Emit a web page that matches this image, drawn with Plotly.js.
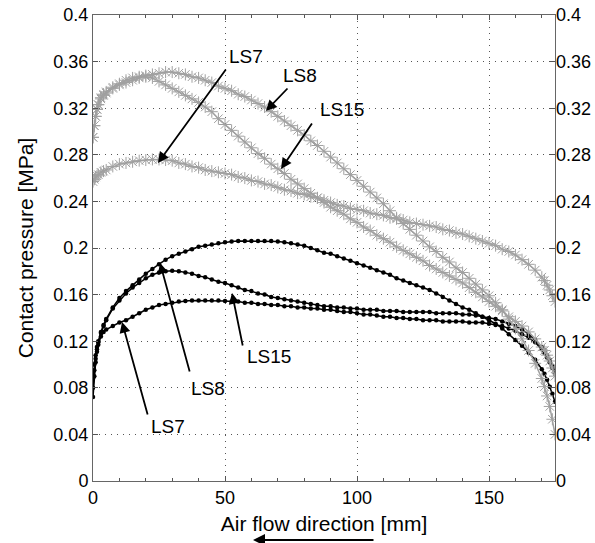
<!DOCTYPE html>
<html>
<head>
<meta charset="utf-8">
<script src="https://cdn.plot.ly/plotly-3.0.1.min.js"></script>
<style>html,body{margin:0;padding:0;background:#fff;}#chart{width:595px;height:543px;}</style>
</head>
<body>
<div id="chart"></div>
<script>
// x positions along the air flow direction [mm]
const xPos = [0,0.5,1,1.5,2,3,4,5,
  7.5,10,12.5,15,17.5,20,22.5,25,27.5,30,32.5,35,37.5,40,42.5,45,47.5,50,
  52.5,55,57.5,60,62.5,65,67.5,70,72.5,75,77.5,80,82.5,85,87.5,90,92.5,95,97.5,100,
  102.5,105,107.5,110,112.5,115,117.5,120,122.5,125,127.5,130,132.5,135,137.5,140,142.5,145,147.5,150,
  152.5,155,157.5,160,162.5,165,167.5,170,
  171,172,173,174,175];

// grey (asterisk) series
const greyLS8 = [0.295,0.305,0.313,0.319,0.323,0.328,0.331,0.333,
  0.337,0.340,0.342,0.344,0.346,0.348,0.349,0.350,0.351,0.351,0.350,0.349,0.347,0.346,0.344,0.342,0.339,0.337,
  0.335,0.332,0.330,0.327,0.324,0.321,0.317,0.313,0.309,0.305,0.301,0.297,0.292,0.288,0.283,0.278,0.273,0.268,0.263,0.258,
  0.253,0.248,0.243,0.238,0.232,0.226,0.221,0.216,0.211,0.206,0.201,0.197,0.192,0.188,0.183,0.179,0.174,0.169,0.164,0.159,
  0.153,0.147,0.139,0.131,0.122,0.112,0.101,0.088,
  0.081,0.073,0.064,0.053,0.040];
const greyLS15 = [0.295,0.305,0.313,0.319,0.323,0.329,0.332,0.334,
  0.338,0.341,0.344,0.346,0.347,0.347,0.346,0.343,0.340,0.337,0.334,0.331,0.328,0.325,0.321,0.317,0.311,0.306,
  0.301,0.296,0.291,0.286,0.281,0.277,0.272,0.268,0.264,0.259,0.255,0.251,0.247,0.243,0.239,0.235,0.232,0.229,0.225,0.222,
  0.218,0.215,0.211,0.208,0.205,0.201,0.198,0.195,0.192,0.189,0.185,0.182,0.179,0.176,0.173,0.170,0.166,0.162,0.158,0.154,
  0.150,0.146,0.141,0.137,0.133,0.128,0.122,0.115,
  0.112,0.108,0.103,0.097,0.090];
const greyLS7 = [0.257,0.259,0.261,0.262,0.263,0.265,0.266,0.267,
  0.270,0.272,0.273,0.274,0.275,0.2755,0.276,0.276,0.2755,0.275,0.273,0.272,0.270,0.269,0.267,0.266,0.265,0.264,
  0.263,0.261,0.260,0.258,0.257,0.255,0.254,0.252,0.250,0.249,0.247,0.246,0.244,0.243,0.241,0.239,0.237,0.236,0.234,0.233,
  0.232,0.230,0.229,0.228,0.226,0.225,0.224,0.222,0.221,0.220,0.219,0.218,0.216,0.215,0.213,0.212,0.210,0.208,0.206,0.204,
  0.202,0.199,0.197,0.194,0.190,0.186,0.181,0.175,
  0.172,0.168,0.164,0.159,0.154];

// black (dot) series
const blackLS8 = [0.088,0.100,0.108,0.115,0.120,0.128,0.134,0.139,
  0.149,0.157,0.163,0.168,0.173,0.178,0.182,0.186,0.190,0.193,0.195,0.197,0.199,0.201,0.202,0.203,0.204,0.205,
  0.2055,0.206,0.206,0.206,0.206,0.206,0.206,0.2055,0.205,0.204,0.203,0.202,0.200,0.198,0.196,0.195,0.193,0.191,0.189,0.187,
  0.185,0.183,0.181,0.179,0.177,0.174,0.172,0.170,0.168,0.166,0.164,0.161,0.158,0.155,0.152,0.149,0.147,0.144,0.141,0.138,
  0.135,0.131,0.126,0.121,0.116,0.110,0.104,0.096,
  0.092,0.087,0.081,0.075,0.068];
const blackLS15 = [0.080,0.095,0.105,0.113,0.119,0.127,0.133,0.138,
  0.148,0.155,0.161,0.166,0.170,0.174,0.177,0.179,0.180,0.1805,0.180,0.179,0.178,0.176,0.175,0.173,0.171,0.170,
  0.168,0.166,0.164,0.163,0.161,0.160,0.158,0.157,0.156,0.155,0.154,0.153,0.152,0.151,0.150,0.150,0.149,0.149,0.148,0.148,
  0.147,0.147,0.147,0.146,0.146,0.146,0.145,0.145,0.145,0.145,0.145,0.144,0.144,0.144,0.144,0.143,0.143,0.142,0.141,0.140,
  0.139,0.137,0.135,0.133,0.130,0.126,0.121,0.115,
  0.112,0.108,0.104,0.099,0.094];
const blackLS7 = [0.072,0.090,0.102,0.111,0.117,0.124,0.128,0.130,
  0.133,0.136,0.138,0.141,0.144,0.147,0.149,0.151,0.152,0.153,0.154,0.1545,0.155,0.155,0.155,0.155,0.155,0.1545,
  0.154,0.154,0.153,0.153,0.152,0.152,0.151,0.151,0.150,0.150,0.149,0.149,0.148,0.148,0.147,0.147,0.146,0.145,0.145,0.144,
  0.143,0.143,0.142,0.141,0.141,0.140,0.140,0.139,0.139,0.138,0.138,0.138,0.137,0.137,0.137,0.137,0.136,0.136,0.136,0.135,
  0.134,0.133,0.131,0.129,0.126,0.123,0.119,0.113,
  0.110,0.106,0.102,0.097,0.092];

// tick labels
const xTicks = [0,50,100,150];
const yTicks = [0,0.04,0.08,0.12,0.16,0.2,0.24,0.28,0.32,0.36,0.4];
const yTickText = ['0','0.04','0.08','0.12','0.16','0.2','0.24','0.28','0.32','0.36','0.4'];

// curve labels
const labelText = ['LS7','LS8','LS15','LS8','LS15','LS7'];

const GREY = '#a0a0a0';
function greyTrace(y){
  return {x:xPos, y:y, yaxis:'y2', type:'scatter', mode:'lines+markers',
    line:{color:GREY, width:1.5},
    marker:{symbol:'asterisk-open', size:10, color:GREY, line:{color:GREY, width:1}},
    hoverinfo:'skip'};
}
function blackTrace(y){
  return {x:xPos, y:y, type:'scatter', mode:'lines+markers',
    line:{color:'#000', width:1.5},
    marker:{symbol:'circle', size:4.5, color:'#000'},
    hoverinfo:'skip'};
}
const data = [blackTrace(blackLS8), blackTrace(blackLS15), blackTrace(blackLS7),
  greyTrace(greyLS8), greyTrace(greyLS15), greyTrace(greyLS7)];

const lblFont = {family:'Liberation Sans, Arial, sans-serif', size:19, color:'#000'};
function txt(x,y,t){return {x:x,y:y,xref:'x',yref:'y',text:t,showarrow:false,font:lblFont};}
function arr(x,y,ax,ay){return {x:x,y:y,xref:'x',yref:'y',text:'',showarrow:true,ax:ax,ay:ay,
  arrowhead:2,arrowsize:1.2,arrowwidth:1.8,arrowcolor:'#000'};}

const annotations = [
  txt(58.0,0.3648,labelText[0]), arr(24.6,0.273,69,-95),
  txt(78.4,0.3485,labelText[1]), arr(65.5,0.3176,23,-24),
  txt(94.3,0.3193,labelText[2]), arr(71.2,0.2678,32,-47),
  txt(43.6,0.0798,labelText[3]), arr(25.4,0.1871,30,110),
  txt(66.7,0.1073,labelText[4]), arr(52.65,0.1614,11,54),
  txt(28.4,0.0464,labelText[5]), arr(11.0,0.1365,26,94),
  {x:0.3463,y:-0.1266,xref:'paper',yref:'paper',text:'',showarrow:true,ax:122,ay:0,
   arrowhead:2,arrowsize:1.2,arrowwidth:2,arrowcolor:'#000'}
];

const axCommon = {ticks:'inside', ticklen:5, tickcolor:'#555', tickwidth:1,
  showline:true, linecolor:'#666', linewidth:1, mirror:'ticks', zeroline:false,
  showgrid:true, gridcolor:'#555', gridwidth:1, griddash:'1px,5px', fixedrange:true,
  tickfont:{size:18}};

const layout = {
  width:595, height:543,
  margin:{l:93, r:40, t:15, b:62, pad:0},
  paper_bgcolor:'#fff', plot_bgcolor:'#fff',
  font:{family:'Liberation Sans, Arial, sans-serif', size:18, color:'#000'},
  showlegend:false,
  hovermode:false,
  xaxis:Object.assign({}, axCommon, {range:[0,175], tickvals:xTicks,
    title:{text:'Air flow direction [mm]', font:{size:21}, standoff:9},
    minor:{ticks:'inside', ticklen:3, dtick:10, tickcolor:'#555', showgrid:false}}),
  yaxis:Object.assign({}, axCommon, {range:[0,0.4], tickvals:yTicks, ticktext:yTickText,
    title:{text:'Contact pressure [MPa]', font:{size:21}, standoff:14}}),
  yaxis2:{overlaying:'y', side:'right', range:[0,0.4], tickvals:yTicks, ticktext:yTickText,
    ticks:'inside', ticklen:5, tickcolor:'#555', showgrid:false, zeroline:false, showline:false,
    fixedrange:true, tickfont:{size:18}},
  annotations:annotations
};

Plotly.newPlot('chart', data, layout, {displayModeBar:false, staticPlot:true});
</script>
</body>
</html>
